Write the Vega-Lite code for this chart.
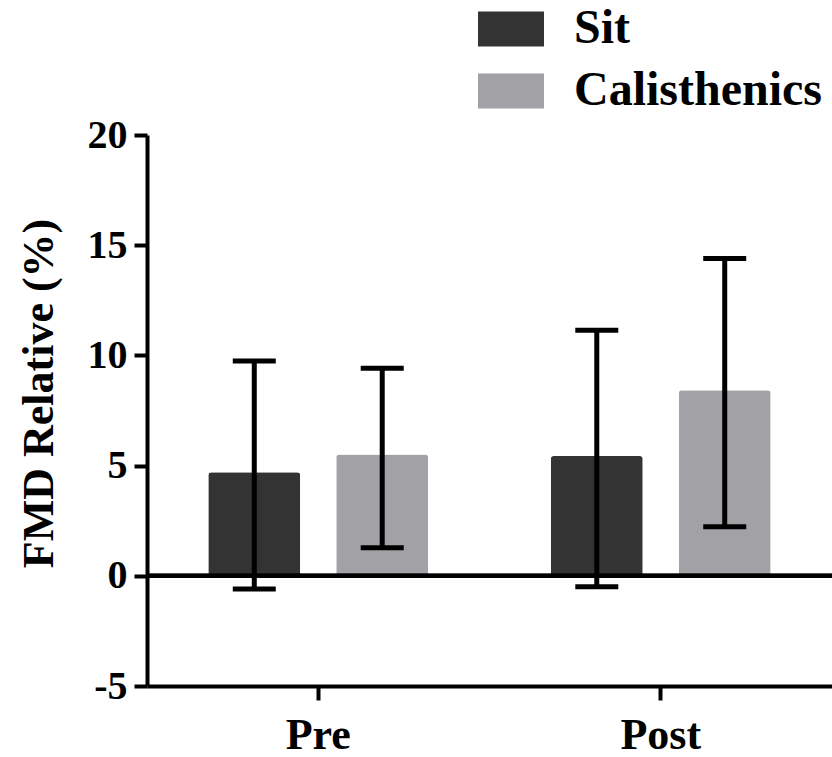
{
  "$schema": "https://vega.github.io/schema/vega-lite/v6.json",
  "autosize": {"type": "none"},
  "padding": {"left": 147, "top": 135, "right": 0, "bottom": 71},
  "width": 685,
  "height": 551,
  "background": "white",
  "config": {
    "font": "Liberation Serif",
    "view": {"stroke": null},
    "axis": {"domainColor": "black", "tickColor": "black", "labelColor": "black", "titleColor": "black", "grid": false}
  },
  "data": {
    "values": [
      {"time": "Pre", "group": "Sit", "mean": 4.7, "lo": -0.6, "hi": 9.75},
      {"time": "Pre", "group": "Calisthenics", "mean": 5.5, "lo": 1.27, "hi": 9.42},
      {"time": "Post", "group": "Sit", "mean": 5.43, "lo": -0.5, "hi": 11.14},
      {"time": "Post", "group": "Calisthenics", "mean": 8.42, "lo": 2.22, "hi": 14.4}
    ]
  },
  "encoding": {
    "x": {
      "field": "time", "type": "nominal", "sort": ["Pre", "Post"],
      "scale": {"paddingInner": 0, "paddingOuter": 0},
      "axis": {"title": null, "labelAngle": 0, "domainWidth": 4, "tickWidth": 4, "tickSize": 14, "labelPadding": 13,
               "labelFontSize": 44, "labelFontWeight": "bold", "labelFont": "Liberation Serif"}
    },
    "xOffset": {
      "field": "group", "type": "nominal", "sort": ["Sit", "Calisthenics"],
      "scale": {"paddingInner": 0.281, "paddingOuter": 0.479}
    }
  },
  "layer": [
    {
      "mark": {"type": "bar", "cornerRadius": 3},
      "encoding": {
        "y": {
          "field": "mean", "type": "quantitative",
          "scale": {"domain": [-5, 20], "nice": false, "zero": false},
          "axis": {
            "values": [-5, 0, 5, 10, 15, 20],
            "labelExpr": "'' + datum.value",
            "title": "FMD Relative (%)",
            "domainWidth": 4, "tickWidth": 4, "tickSize": 13, "labelPadding": 7,
            "labelFontSize": 40, "labelFontWeight": "bold", "labelFont": "Liberation Serif",
            "titleFontSize": 44, "titleFontWeight": "bold", "titleFont": "Liberation Serif",
            "titleAngle": -90, "titleX": -108, "titleY": 258, "titleAlign": "center", "titleBaseline": "middle"
          }
        },
        "color": {
          "field": "group", "type": "nominal", "sort": ["Sit", "Calisthenics"],
          "scale": {"domain": ["Sit", "Calisthenics"], "range": ["#333333", "#a2a2a6"]},
          "legend": {
            "orient": "none", "legendX": 331, "legendY": -139, "padding": 0, "title": null,
            "symbolType": "M-1,-0.53H1V0.53H-1Z", "symbolSize": 4356, "symbolStrokeWidth": 0,
            "labelFontSize": 48, "labelFont": "Liberation Serif", "labelFontWeight": "bold", "labelColor": "black",
            "labelOffset": 30, "rowPadding": 5, "labelLimit": 400
          }
        }
      }
    },
    {
      "mark": {"type": "rule", "strokeWidth": 4, "color": "black"},
      "encoding": {"y": {"datum": 0, "type": "quantitative"}, "x": null, "xOffset": null}
    },
    {
      "mark": {"type": "rule", "strokeWidth": 5, "color": "black"},
      "encoding": {"y": {"field": "lo", "type": "quantitative"}, "y2": {"field": "hi"}}
    },
    {
      "mark": {"type": "tick", "thickness": 5, "size": 43, "color": "black", "opacity": 1},
      "encoding": {"y": {"field": "lo", "type": "quantitative"}}
    },
    {
      "mark": {"type": "tick", "thickness": 5, "size": 43, "color": "black", "opacity": 1},
      "encoding": {"y": {"field": "hi", "type": "quantitative"}}
    }
  ]
}
